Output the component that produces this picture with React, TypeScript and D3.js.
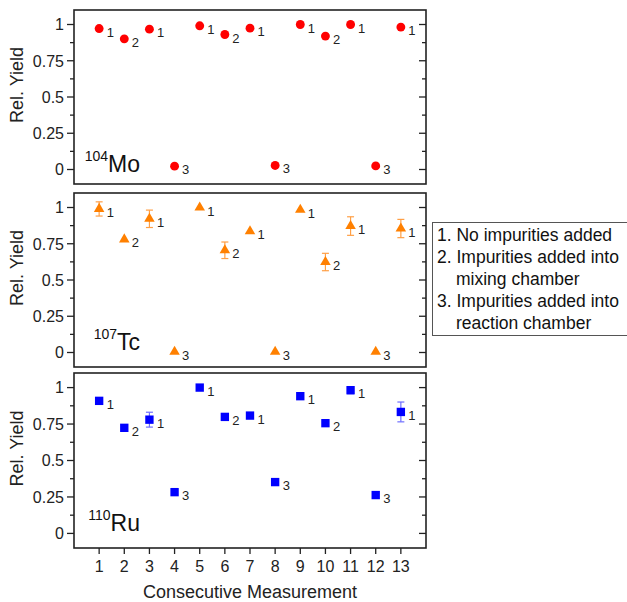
import { useRef, useEffect } from "react";
import * as d3 from "d3";

const MEASUREMENTS = [1, 2, 3, 4, 5, 6, 7, 8, 9, 10, 11, 12, 13];
const CONDITIONS = [1, 2, 1, 3, 1, 2, 1, 3, 1, 2, 1, 3, 1];

const MO_YIELD = [0.972, 0.901, 0.968, 0.023, 0.991, 0.931, 0.975, 0.028, 1.0, 0.92, 1.0, 0.025, 0.982];
const MO_ERR = [0, 0, 0, 0, 0, 0, 0, 0, 0, 0, 0, 0, 0];

const TC_YIELD = [0.99, 0.78, 0.922, 0.005, 1.0, 0.705, 0.836, 0.005, 0.984, 0.624, 0.872, 0.005, 0.855];
const TC_ERR = [0.049, 0, 0.06, 0, 0, 0.057, 0, 0, 0, 0.06, 0.064, 0, 0.063];

const RU_YIELD = [0.909, 0.724, 0.78, 0.283, 1.0, 0.799, 0.808, 0.352, 0.941, 0.756, 0.982, 0.263, 0.833];
const RU_ERR = [0, 0, 0.051, 0.015, 0, 0.015, 0, 0.012, 0, 0.015, 0.024, 0, 0.068];

const Y_TICKS = [0, 0.25, 0.5, 0.75, 1];
const Y_MINOR = [0.125, 0.375, 0.625, 0.875];

const LEGEND_LINES = [
  { text: "1. No impurities added", indent: false },
  { text: "2. Impurities added into", indent: false },
  { text: "mixing chamber", indent: true },
  { text: "3. Impurities added into", indent: false },
  { text: "reaction chamber", indent: true }
];

const FONT = "'Liberation Sans', Arial, sans-serif";

export default function App() {
  const ref = useRef<SVGSVGElement>(null);

  useEffect(() => {
    const svg = d3.select(ref.current);
    svg.selectAll("*").remove();

    const width = 627;
    const height = 602;
    const left = 74;
    const right = 426;

    svg.attr("width", width).attr("height", height).style("font-family", FONT);

    const x = d3.scaleLinear().domain([0, 14]).range([left, right]);

    const panels = [
      { top: 10, bottom: 184, iso: "104", el: "Mo", values: MO_YIELD, errors: MO_ERR, color: "#ff0000", errColor: "#ff6666", symbol: d3.symbolCircle, size: 62 },
      { top: 193, bottom: 367, iso: "107", el: "Tc", values: TC_YIELD, errors: TC_ERR, color: "#ff8000", errColor: "#ff9f45", symbol: d3.symbolTriangle, size: 48 },
      { top: 373, bottom: 548, iso: "110", el: "Ru", values: RU_YIELD, errors: RU_ERR, color: "#0000ff", errColor: "#6f6fff", symbol: d3.symbolSquare, size: 70 }
    ];

    panels.forEach((p, pi) => {
      const y = d3.scaleLinear().domain([-0.1, 1.1]).range([p.bottom, p.top]);
      const g = svg.append("g");

      // left ticks out, right ticks in
      Y_TICKS.forEach(t => {
        g.append("line").attr("x1", left - 7).attr("x2", left).attr("y1", y(t)).attr("y2", y(t))
          .attr("stroke", "#222").attr("stroke-width", 1.3);
        g.append("line").attr("x1", right - 7).attr("x2", right).attr("y1", y(t)).attr("y2", y(t))
          .attr("stroke", "#222").attr("stroke-width", 1.3);
        g.append("text").attr("x", left - 10).attr("y", y(t)).attr("dy", "0.36em")
          .attr("text-anchor", "end").attr("font-size", 16).attr("fill", "#222").text(String(t));
      });
      Y_MINOR.forEach(t => {
        g.append("line").attr("x1", left - 4).attr("x2", left).attr("y1", y(t)).attr("y2", y(t))
          .attr("stroke", "#222").attr("stroke-width", 1.3);
        g.append("line").attr("x1", right - 4).attr("x2", right).attr("y1", y(t)).attr("y2", y(t))
          .attr("stroke", "#222").attr("stroke-width", 1.3);
      });

      g.append("rect").attr("x", left).attr("y", p.top).attr("width", right - left)
        .attr("height", p.bottom - p.top).attr("fill", "none").attr("stroke", "#222").attr("stroke-width", 1.6);

      const cy = (p.top + p.bottom) / 2 - 12;
      g.append("text").attr("transform", `translate(23,${cy}) rotate(-90)`)
        .attr("text-anchor", "middle").attr("font-size", 18).attr("fill", "#222").text("Rel. Yield");

      const iso = g.append("text").attr("x", 140).attr("y", [172, 350, 531][pi])
        .attr("text-anchor", "end").attr("fill", "#111");
      iso.append("tspan").attr("font-size", 14).attr("dy", -11).text(p.iso);
      iso.append("tspan").attr("font-size", 23).attr("dy", 11).text(p.el);

      // error bars
      MEASUREMENTS.forEach((m, i) => {
        const e = p.errors[i];
        if (!e) return;
        const v = p.values[i];
        g.append("line").attr("x1", x(m)).attr("x2", x(m)).attr("y1", y(v - e)).attr("y2", y(v + e))
          .attr("stroke", p.errColor).attr("stroke-width", 1.2);
        [v - e, v + e].forEach(yy => {
          g.append("line").attr("x1", x(m) - 3.5).attr("x2", x(m) + 3.5).attr("y1", y(yy)).attr("y2", y(yy))
            .attr("stroke", p.errColor).attr("stroke-width", 1.2);
        });
      });

      const sym = d3.symbol().type(p.symbol).size(p.size);
      g.selectAll("path.pt")
        .data(MEASUREMENTS)
        .enter()
        .append("path")
        .attr("class", "pt")
        .attr("d", sym)
        .attr("transform", (m, i) => `translate(${x(m)},${y(p.values[i])})`)
        .attr("fill", p.color);

      g.selectAll("text.cond")
        .data(MEASUREMENTS)
        .enter()
        .append("text")
        .attr("class", "cond")
        .attr("x", m => x(m) + 7.5)
        .attr("y", (m, i) => y(p.values[i]) + 8)
        .attr("font-size", 13)
        .attr("fill", "#222")
        .text((m, i) => String(CONDITIONS[i]));
    });

    // x axis only under the last panel
    const bottom = panels[2].bottom;
    MEASUREMENTS.forEach(m => {
      svg.append("line").attr("x1", x(m)).attr("x2", x(m)).attr("y1", bottom).attr("y2", bottom + 6)
        .attr("stroke", "#222").attr("stroke-width", 1.3);
      svg.append("text").attr("x", x(m)).attr("y", bottom + 24).attr("text-anchor", "middle")
        .attr("font-size", 16).attr("fill", "#222").text(String(m));
    });

    svg.append("text").attr("x", (left + right) / 2).attr("y", 598).attr("text-anchor", "middle")
      .attr("font-size", 18).attr("fill", "#222").text("Consecutive Measurement");

    const lg = svg.append("g");
    lg.append("rect").attr("x", 432.5).attr("y", 222.5).attr("width", 200).attr("height", 113)
      .attr("fill", "#fff").attr("stroke", "#555").attr("stroke-width", 1);
    LEGEND_LINES.forEach((l, i) => {
      lg.append("text").attr("x", l.indent ? 456 : 437).attr("y", 241 + i * 22)
        .attr("font-size", 17.5).attr("fill", "#111").text(l.text);
    });
  }, []);

  return <svg ref={ref} style={{ position: "absolute", left: 0, top: 0 }}></svg>;
}
